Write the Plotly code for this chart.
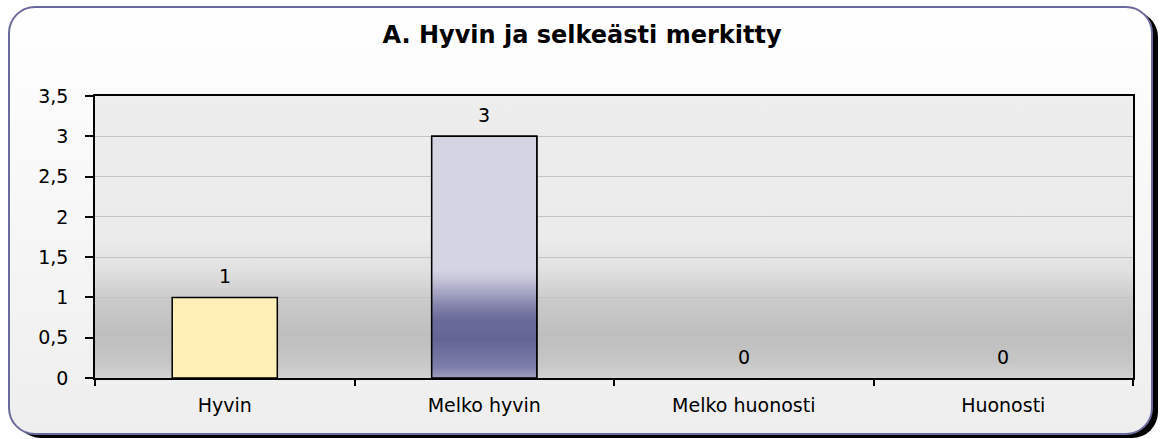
import base64
import plotly.graph_objects as go

# ---- data ----
categories = ["Hyvin", "Melko hyvin", "Melko huonosti", "Huonosti"]
values = [1, 3, 0, 0]
bar_colors = ["#FEF0B6", "#D4D4E3", "#D4D4E3", "#D4D4E3"]
gradient_bars = [False, True, False, False]
title_text = "A. Hyvin ja selkeästi merkitty"
y_ticks = [0, 0.5, 1, 1.5, 2, 2.5, 3, 3.5]

W, H = 1164, 439
ML, MR, MT, MB = 95, 31, 96, 61
PW, PH = W - ML - MR, H - MT - MB
BAR_W = 0.405
FONT = "DejaVu Sans"
FS = 19

# background: rounded frame with shadow + plot-area gradient
svg = f"""<svg xmlns='http://www.w3.org/2000/svg' width='{W}' height='{H}' viewBox='0 0 {W} {H}'>
<defs>
<linearGradient id='fr' x1='0' y1='0' x2='0' y2='1'>
<stop offset='0' stop-color='#ffffff'/><stop offset='1' stop-color='#eeeeef'/>
</linearGradient>
<linearGradient id='pl' x1='0' y1='0' x2='0' y2='1'>
<stop offset='0' stop-color='#ededed'/>
<stop offset='0.50' stop-color='#ebebeb'/>
<stop offset='0.62' stop-color='#e0e0e0'/>
<stop offset='0.72' stop-color='#cbcbcb'/>
<stop offset='0.85' stop-color='#bebebe'/>
<stop offset='0.94' stop-color='#c6c6c6'/>
<stop offset='1' stop-color='#d2d2d2'/>
</linearGradient>
</defs>
<rect x='15' y='11' width='1143' height='427' rx='26' ry='26' fill='#000000'/>
<rect x='9' y='7' width='1143' height='427' rx='26' ry='26' fill='url(#fr)' stroke='#6b6b9b' stroke-width='2'/>
<rect x='{ML}' y='{MT}' width='{PW}' height='{PH}' fill='url(#pl)'/>
</svg>"""
src = "data:image/svg+xml;base64," + base64.b64encode(svg.encode()).decode()

fig = go.Figure()
fig.add_trace(go.Bar(
    x=categories, y=values, width=BAR_W,
    marker=dict(color=bar_colors,
                line=dict(color="black", width=[1.5 if v > 0 else 0 for v in values])),
    showlegend=False, hoverinfo="skip",
))

# gradient overlay for gradient-filled bars (same geometry as the bars)
grad_scale = [
    [0.0, "#a0a0c0"], [0.045, "#7e7eaa"], [0.157, "#646496"], [0.24, "#6a6a9a"],
    [0.293, "#8080a8"], [0.35, "#a3a3c2"], [0.407, "#c4c4d8"], [0.447, "#d4d4e3"],
    [1.0, "#d4d4e3"],
]
for i, (v, g) in enumerate(zip(values, gradient_bars)):
    if g and v > 0:
        fig.add_trace(go.Scatter(
            x=[i - BAR_W / 2, i + BAR_W / 2, i + BAR_W / 2, i - BAR_W / 2, i - BAR_W / 2],
            y=[0, 0, v, v, 0], xaxis="x2", mode="lines", fill="toself",
            fillgradient=dict(type="vertical", colorscale=grad_scale, start=0, stop=v),
            line=dict(color="black", width=1.5), showlegend=False, hoverinfo="skip",
        ))

for c, v in zip(categories, values):
    fig.add_annotation(x=c, y=v, text=str(v), showarrow=False, yanchor="bottom",
                       yshift=8, font=dict(family=FONT, size=FS, color="black"))

fig.update_layout(
    width=W, height=H,
    margin=dict(l=ML, r=MR, t=MT, b=MB, pad=0),
    paper_bgcolor="white", plot_bgcolor="rgba(0,0,0,0)",
    separators=", ",
    font=dict(family=FONT, size=FS, color="black"),
    title=dict(text=title_text, x=0.5, xref="container", y=1 - 35 / H, yref="container",
               xanchor="center", yanchor="middle",
               font=dict(family=FONT, size=24, color="black", weight="bold")),
    images=[dict(source=src, xref="paper", yref="paper", x=-ML / PW, y=1 + MT / PH,
                 sizex=W / PW, sizey=H / PH, xanchor="left", yanchor="top",
                 sizing="stretch", layer="below")],
    xaxis=dict(type="category", categoryorder="array", categoryarray=categories,
               range=[-0.5, 3.5], showline=True, linecolor="black", linewidth=1.5,
               mirror=True, ticks="outside", tickson="boundaries", ticklen=6,
               tickcolor="black", tickwidth=1.5, showgrid=False, ticklabelstandoff=9,
               tickfont=dict(family=FONT, size=FS, color="black")),
    xaxis2=dict(overlaying="x", range=[-0.5, 3.5], visible=False, anchor="y"),
    yaxis=dict(range=[0, 3.5], tickvals=y_ticks, showgrid=True, gridcolor="#c4c4c4",
               gridwidth=1, zeroline=False, showline=True, linecolor="black",
               linewidth=1.5, mirror=True, ticks="outside", ticklen=8,
               tickcolor="black", tickwidth=1.5, ticklabelstandoff=13,
               tickfont=dict(family=FONT, size=FS, color="black")),
)

fig.write_html("out.html", config={"displayModeBar": False})

# remove the browser's default page margin so the figure sits at (0, 0)
with open("out.html", encoding="utf-8") as f:
    html = f.read()
html = html.replace("<head>", "<head><style>html,body{margin:0;padding:0;overflow:hidden;}</style>", 1)
with open("out.html", "w", encoding="utf-8") as f:
    f.write(html)
